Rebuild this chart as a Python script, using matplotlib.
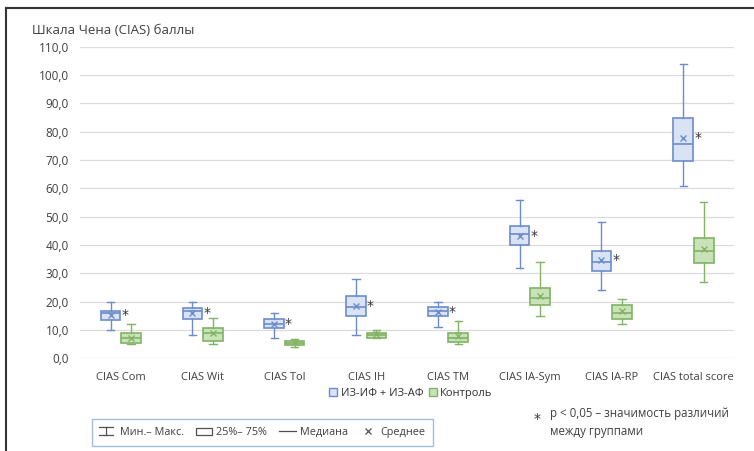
import matplotlib
matplotlib.use("Agg")
import matplotlib.pyplot as plt
from matplotlib.lines import Line2D
from matplotlib.patches import Rectangle
from matplotlib.legend_handler import HandlerBase
from matplotlib.ticker import FuncFormatter

plt.rcParams['font.family'] = ['Open Sans', 'DejaVu Sans']

categories = ["CIAS Com", "CIAS Wit", "CIAS Tol", "CIAS IH", "CIAS TM",
              "CIAS IA-Sym", "CIAS IA-RP", "CIAS total score"]

# ИЗ-ИФ + ИЗ-АФ
grp1_min = [10, 8, 7, 8, 11, 32, 24, 61]
grp1_q1 = [13.3, 13.9, 10.8, 14.8, 14.8, 39.8, 30.9, 69.7]
grp1_med = [16.1, 16.8, 12.0, 17.9, 16.7, 44.0, 34.0, 75.7]
grp1_q3 = [16.8, 17.7, 13.9, 21.9, 17.9, 46.8, 37.8, 84.7]
grp1_max = [20, 20, 16, 28, 20, 56, 48, 104]
grp1_mean = [15.2, 15.8, 12.2, 18.3, 16.3, 43.0, 34.7, 77.9]

# Контроль
grp2_min = [5, 5, 3.9, 7, 5, 15, 12, 27]
grp2_q1 = [5.2, 6.0, 4.8, 7.0, 5.8, 18.8, 13.9, 33.7]
grp2_med = [7.0, 8.8, 5.4, 8.0, 7.2, 21.4, 15.8, 37.8]
grp2_q3 = [8.9, 10.8, 6.0, 9.0, 8.9, 24.8, 18.9, 42.4]
grp2_max = [12, 14, 6.8, 10, 13, 34, 21, 55]
grp2_mean = [7.1, 8.8, 5.8, 8.5, 7.9, 22.0, 16.6, 38.5]

significant = [True, True, True, True, True, True, True, True]

blue_edge, blue_fill = "#6b8ccc", "#dae3f3"
green_edge, green_fill = "#82b366", "#c9e2b8"


def make_stats(mn, q1, med, q3, mx, mean):
    return [dict(whislo=a, q1=b, med=c, q3=d, whishi=e, mean=f, fliers=[])
            for a, b, c, d, e, f in zip(mn, q1, med, q3, mx, mean)]


def draw(ax, stats, pos, edge, fill):
    ax.bxp(stats, positions=pos, widths=0.24, patch_artist=True, showmeans=True,
           boxprops=dict(facecolor=fill, edgecolor=edge, linewidth=1.2),
           medianprops=dict(color=edge, linewidth=1.2),
           whiskerprops=dict(color=edge, linewidth=1.0),
           capprops=dict(color=edge, linewidth=1.0),
           capwidths=0.09,
           meanprops=dict(marker="x", markeredgecolor=edge, markersize=5,
                          markeredgewidth=1.0))


fig = plt.figure(figsize=(7.54, 4.51), dpi=100)
ax = fig.add_axes([0.106, 0.206, 0.868, 0.69])

x = [i + 0.5 for i in range(len(categories))]
draw(ax, make_stats(grp1_min, grp1_q1, grp1_med, grp1_q3, grp1_max, grp1_mean),
     [v - 0.125 for v in x], blue_edge, blue_fill)
draw(ax, make_stats(grp2_min, grp2_q1, grp2_med, grp2_q3, grp2_max, grp2_mean),
     [v + 0.125 for v in x], green_edge, green_fill)

for xi, m, s in zip(x, grp1_mean, significant):
    if s:
        ax.text(xi + 0.05, m, "*", fontsize=10, ha="center", va="center",
                color="#333333", family="DejaVu Sans")

ax.set_xlim(0, 8)
ax.set_ylim(0, 110)
ax.set_xticks(x)
ax.set_xticklabels(categories, fontsize=8, color="#404040")
ax.set_yticks(range(0, 111, 10))
ax.yaxis.set_major_formatter(FuncFormatter(lambda v, p: f"{v:.1f}".replace(".", ",")))
ax.tick_params(axis="y", labelsize=8.5, colors="#404040", length=0, pad=8)
ax.tick_params(axis="x", length=0, pad=10)
ax.grid(axis="y", color="#dcdcdc", linewidth=0.9)
ax.set_axisbelow(True)
for sp in ax.spines.values():
    sp.set_visible(False)

fig.text(0.042, 0.925, "Шкала Чена (CIAS) баллы", fontsize=9.5, color="#404040")

# group legend
h1 = Line2D([], [], linestyle="none", marker="s", markersize=5.5,
            markerfacecolor=blue_fill, markeredgecolor=blue_edge)
h2 = Line2D([], [], linestyle="none", marker="s", markersize=5.5,
            markerfacecolor=green_fill, markeredgecolor=green_edge)
fig.legend([h1, h2], ["ИЗ-ИФ + ИЗ-АФ", "Контроль"], loc="center",
           bbox_to_anchor=(0.545, 0.128), ncol=2, frameon=False, fontsize=8,
           handlelength=0.7, handletextpad=0.3, columnspacing=0.5,
           labelcolor="#303030")


class IBeam:
    pass


class HandlerIBeam(HandlerBase):
    def create_artists(self, legend, orig, xd, yd, w, h, fontsize, trans):
        cx = xd + w * 0.4
        c = "#505050"
        return [Line2D([cx - 5, cx + 5], [yd + h, yd + h], color=c, lw=0.9, transform=trans),
                Line2D([cx - 5, cx + 5], [yd, yd], color=c, lw=0.9, transform=trans),
                Line2D([cx, cx], [yd, yd + h], color=c, lw=0.9, transform=trans)]


class HandlerRect(HandlerBase):
    def create_artists(self, legend, orig, xd, yd, w, h, fontsize, trans):
        return [Rectangle((xd, yd + h * 0.05), w, h * 0.9, facecolor="white",
                          edgecolor="#505050", lw=0.9, transform=trans)]


box_handle = Rectangle((0, 0), 1, 1)
med_handle = Line2D([], [], color="#505050", lw=0.9)
mean_handle = Line2D([], [], linestyle="none", marker="x", color="#505050",
                     markersize=4, markeredgewidth=0.9)
leg = fig.legend([IBeam(), box_handle, med_handle, mean_handle],
                 ["Мин.– Макс.", "25%– 75%", "Медиана", "Среднее"],
                 handler_map={IBeam: HandlerIBeam(), Rectangle: HandlerRect()},
                 loc="center", bbox_to_anchor=(0.348, 0.041), ncol=4,
                 fontsize=7.8, frameon=True, fancybox=False,
                 handlelength=1.5, handletextpad=0.4, columnspacing=1.1,
                 labelcolor="#404040", borderpad=0.7, borderaxespad=0)
leg.get_frame().set_edgecolor("#8faadc")
leg.get_frame().set_linewidth(1.0)

fig.text(0.708, 0.062, "*", fontsize=10, color="#333333", family="DejaVu Sans")
fig.text(0.729, 0.097, "p < 0,05 – значимость различий\nмежду группами",
         fontsize=8.3, color="#404040", linespacing=1.45, va="top")

# scan frame edges
fig.add_artist(Line2D([0.008, 0.008], [0, 0.983], color="#333333", lw=1.5,
                      transform=fig.transFigure))
fig.add_artist(Line2D([0.008, 1], [0.983, 0.983], color="#333333", lw=1.5,
                      transform=fig.transFigure))

fig.savefig("out.png", dpi=100)
